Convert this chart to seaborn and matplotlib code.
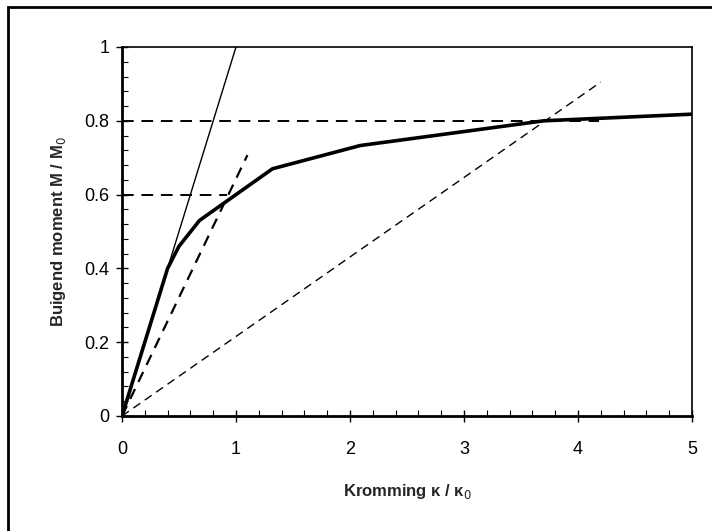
import matplotlib
matplotlib.use("Agg")
import matplotlib.pyplot as plt
import seaborn as sns
import pandas as pd
from matplotlib.ticker import MultipleLocator
from matplotlib.patches import Rectangle

sns.set_theme(style="white")
plt.rcParams['font.family'] = ['Liberation Sans', 'DejaVu Sans']

# Main moment-curvature curve
kappa = [0, 0.4, 0.5, 0.68, 1.32, 2.09, 3.7, 5.0]
moment = [0, 0.40, 0.46, 0.53, 0.67, 0.733, 0.80, 0.818]

# Initial stiffness line (thin solid)
k_elastic = [0, 1.0]
m_elastic = [0, 1.0]

# Secant line through M = 0.6 (thick dashed)
k_sec06 = [0, 1.1]
m_sec06 = [0, 0.707]

# Secant line through M = 0.8 (thin dashed)
k_sec08 = [0, 4.2]
m_sec08 = [0, 0.905]

# Horizontal reference levels
h_levels = [0.6, 0.8]
h_ends = [0.92, 4.18]

df = pd.DataFrame({"kappa": kappa, "moment": moment})

fig = plt.figure(figsize=(7.12, 5.31), dpi=100)
ax = fig.add_axes([122/712, 1-416/531, 570/712, 369/531])

for lvl, end in zip(h_levels, h_ends):
    ax.plot([0, end], [lvl, lvl], color="black", lw=1.4, ls=(0, (6, 4)))

sns.lineplot(x=k_elastic, y=m_elastic, ax=ax, color="black", lw=1.0)
sns.lineplot(x=k_sec06, y=m_sec06, ax=ax, color="black", lw=1.6, ls=(0, (5, 3.5)))
sns.lineplot(x=k_sec08, y=m_sec08, ax=ax, color="black", lw=1.0, ls=(0, (6, 4)))
sns.lineplot(data=df, x="kappa", y="moment", ax=ax, color="black", lw=2.6, sort=False)

ax.set_xlim(0, 5)
ax.set_ylim(0, 1)
ax.xaxis.set_major_locator(MultipleLocator(1))
ax.xaxis.set_minor_locator(MultipleLocator(0.2))
ax.yaxis.set_major_locator(MultipleLocator(0.2))
ax.yaxis.set_minor_locator(MultipleLocator(0.04))
ax.set_xticks([0, 1, 2, 3, 4, 5])
ax.set_xticklabels(["0", "1", "2", "3", "4", "5"])
ax.set_yticks([0, 0.2, 0.4, 0.6, 0.8, 1])
ax.set_yticklabels(["0", "0.2", "0.4", "0.6", "0.8", "1"])

ax.tick_params(axis="both", which="major", direction="inout", length=8, width=1,
               colors="black", labelsize=13, bottom=True, left=True)
ax.tick_params(axis="both", which="minor", direction="in", length=4, width=0.8,
               colors="black", bottom=True, left=True)
ax.tick_params(axis="x", pad=14)
ax.tick_params(axis="y", pad=5)

for side in ["top", "right"]:
    ax.spines[side].set_linewidth(1.2)
    ax.spines[side].set_color("black")
for side in ["left", "bottom"]:
    ax.spines[side].set_linewidth(2.0)
    ax.spines[side].set_color("black")

ax.set_xlabel("Kromming κ / κ$_0$", fontsize=12, fontweight="bold", labelpad=17)
ax.set_ylabel("Buigend moment M / M$_0$", fontsize=12, fontweight="bold", labelpad=12)

# outer frame
fig.patches.append(Rectangle((8/712, -0.1), 1.2, 1.1 - 7/531, transform=fig.transFigure,
                             fill=False, edgecolor="black", lw=2.0))

fig.savefig("out.png", dpi=100)
